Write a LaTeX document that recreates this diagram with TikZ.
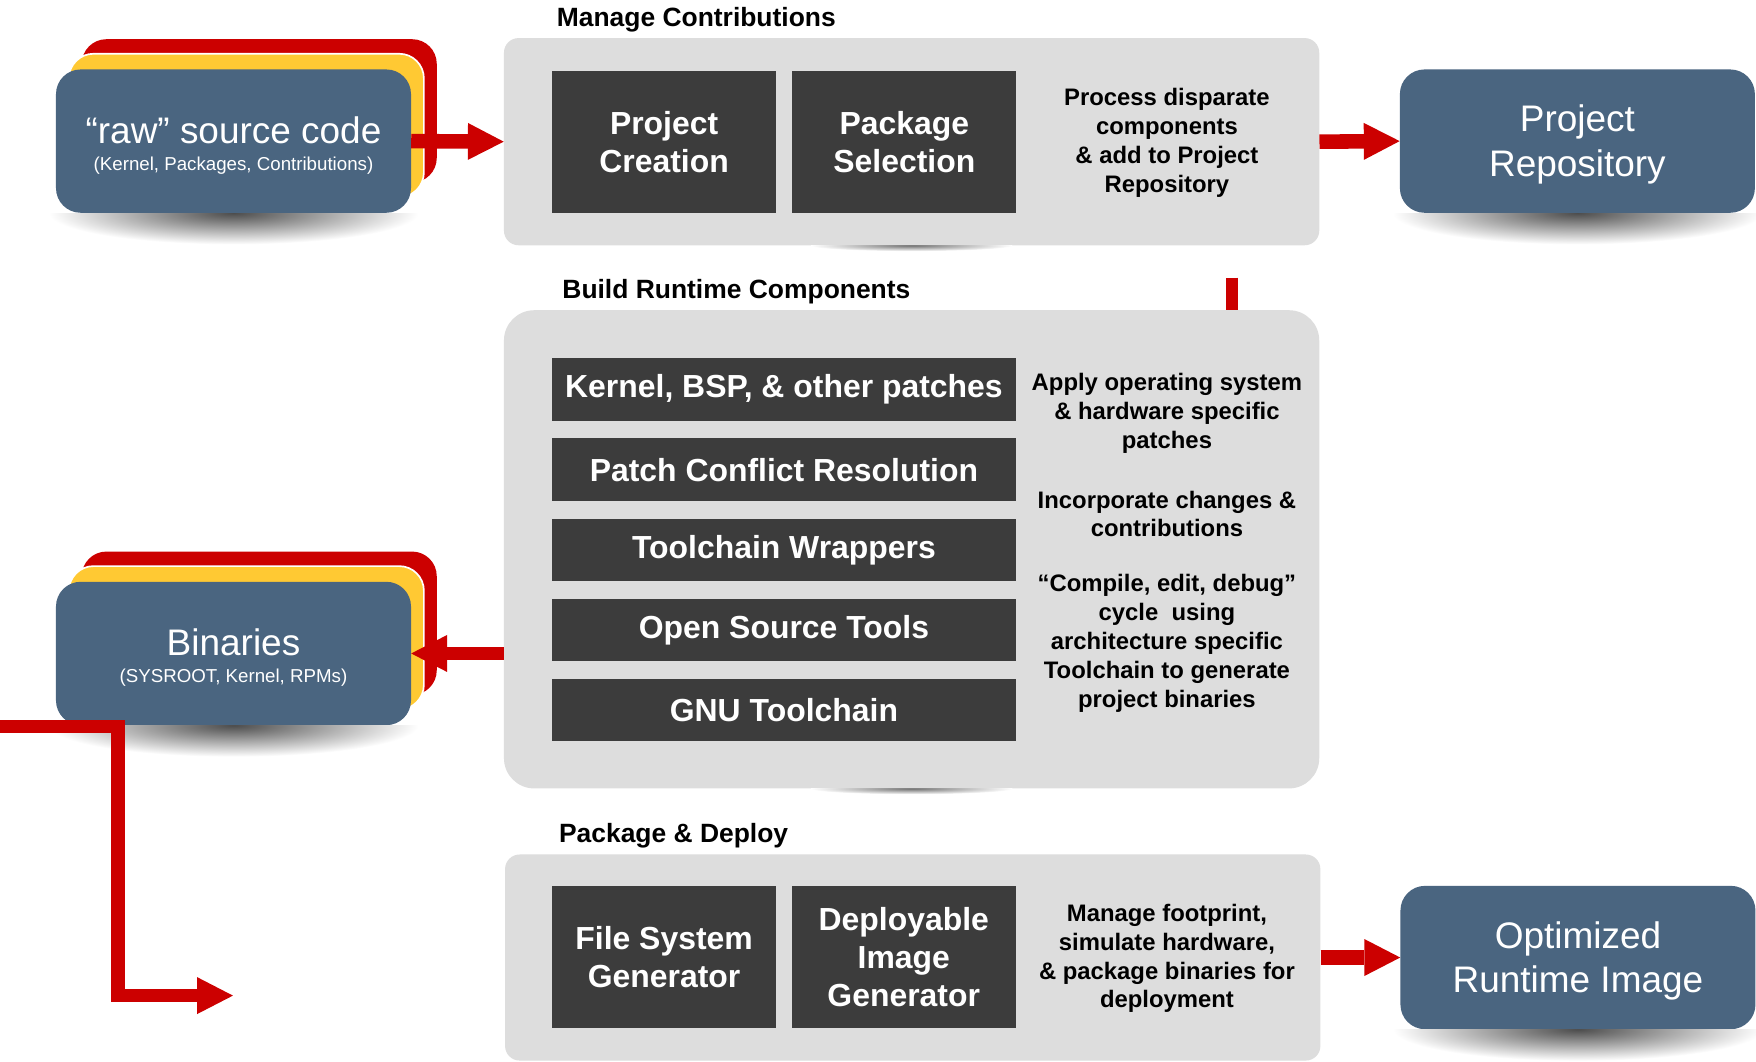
\documentclass[tikz,border=0pt]{standalone}
\usepackage{fontspec}
\setmainfont{Liberation Sans}
\usetikzlibrary{arrows.meta,calc}
\definecolor{boxblue}{HTML}{4A6580}
\definecolor{boxyellow}{HTML}{FFC933}
\definecolor{boxred}{HTML}{CC0000}
\definecolor{darkbox}{HTML}{3C3C3C}
\definecolor{panelgray}{HTML}{DDDDDD}
\newcommand{\shadowunder}[4]{%
  \begin{scope}
    \clip ($(#1.south west)+(-25,0)$) rectangle ($(#1.south east)+(25,#3)$);
    \shade[inner color=black!#4, outer color=white] (#1.south) ellipse [x radius=#2pt, y radius=#3pt];
  \end{scope}}
\begin{document}
\begin{tikzpicture}[x=1pt,y=-1pt,
  panel/.style={fill=panelgray, rounded corners=13pt, inner sep=0pt, minimum width=728pt},
  darkcell/.style={fill=darkbox, text=white, font=\bfseries\fontsize{28.5}{34}\selectfont, align=center, inner sep=0pt, minimum width=200pt, minimum height=127pt},
  barcell/.style={fill=darkbox, text=white, font=\bfseries\fontsize{28.5}{34}\selectfont, inner sep=0pt, minimum width=414pt, minimum height=56pt},
  desc/.style={font=\bfseries\fontsize{21.3}{25.7}\selectfont, align=center, text=black},
  ptitle/.style={font=\bfseries\fontsize{23.6}{28}\selectfont, anchor=base west, inner sep=0pt},
  bluebox/.style={fill=boxblue, rounded corners=22pt, minimum width=317pt, minimum height=128pt, inner sep=0pt},
  yellowbox/.style={fill=boxyellow, draw=white, line width=1.5pt, rounded corners=22pt, minimum width=317pt, minimum height=128pt, inner sep=0pt},
  redbox/.style={fill=boxred, rounded corners=22pt, minimum width=317pt, minimum height=128pt, inner sep=0pt},
  bigw/.style={text=white, font=\fontsize{33}{40}\selectfont, align=center, inner sep=0pt},
  smallw/.style={text=white, font=\fontsize{16.7}{20}\selectfont, inner sep=0pt},
  flow/.style={draw=boxred, line width=13pt, -{Triangle[length=32pt,width=33pt,line width=0pt]}},
]
\fill[white] (0,0) rectangle (1568,948.2);
\useasboundingbox (0,0) rectangle (1568,948.2);

% stub connector (behind the build panel)
\coordinate (stubTop) at (1100,248);

% panels
\node[panel, minimum height=185pt] (manage) at (814,126.5) {};
\node[panel, rounded corners=27pt, minimum height=427pt] (build) at (814,490.5) {};
\node[panel, minimum height=184pt] (package) at (815,855) {};
\draw[boxred, line width=10.7pt] (stubTop) -- (stubTop |- build.north);
\shadowunder{manage}{90}{5}{55}
\shadowunder{build}{90}{5}{55}

% titles
\node[ptitle] (tManage) at (497,23.5) {Manage Contributions};
\node[ptitle] (tBuild) at (502,266.5) {Build Runtime Components};
\node[ptitle] (tPackage) at (499,752.5) {Package \& Deploy};

% manage contributions
\node[darkcell] (pcreate) at (593,126.5) {Project\\Creation};
\node[darkcell] (psel) at (807.5,126.5) {Package\\Selection};
\node[desc] (mdesc) at (1042,127.5) {Process disparate\\components\\\& add to Project\\Repository};

% build runtime components
\node[barcell] (kernel) at (700,348) {Kernel, BSP, \& other patches};
\node[barcell] (conflict) at (700,419.5) {Patch Conflict Resolution};
\node[barcell] (wrap) at (700,491) {Toolchain Wrappers};
\node[barcell] (ostools) at (700,562.5) {Open Source Tools};
\node[barcell] (gnu) at (700,634) {GNU Toolchain};
\node[desc] (bdescA) at (1042,369) {Apply operating system\\\& hardware specific\\patches};
\node[desc] (bdescB) at (1042,459) {Incorporate changes \&\\contributions};
\node[desc] (bdescC) at (1042,574.5) {“Compile, edit, debug”\\cycle~ using\\architecture specific\\Toolchain to generate\\project binaries};

% package & deploy
\node[darkcell] (fsgen) at (593,854.5) {File System\\Generator};
\node[darkcell] (deploy) at (807,854.5) {Deployable\\Image\\Generator};
\node[desc] (pdesc) at (1042,856) {Manage footprint,\\simulate hardware,\\\& package binaries for\\deployment};

% raw source code stack
\node[redbox] (rawRed) at (231.5,99) {};
\node[yellowbox] (rawYel) at (220,112) {};
\node[bluebox] (raw) at (208.5,126) {};
\shadowunder{raw}{165}{28}{70}
\node[bigw, anchor=base] (rawTitle) at (208.5,128.5) {“raw” source code};
\node[smallw, anchor=base] (rawSub) at (208.5,152) {(Kernel, Packages, Contributions)};

% binaries stack
\node[redbox] (binRed) at (231.5,556.5) {};
\node[yellowbox] (binYel) at (220,569.5) {};
\node[bluebox] (bin) at (208.5,583.5) {};
\shadowunder{bin}{165}{28}{70}
\node[bigw, anchor=base] (binTitle) at (208.5,585.5) {Binaries};
\node[smallw, anchor=base] (binSub) at (208.5,609) {(SYSROOT, Kernel, RPMs)};

% project repository
\node[bluebox] (repo) at (1408.5,126) {};
\shadowunder{repo}{165}{28}{70}
\node[bigw] (repoText) at (1408.5,129) {Project\\Repository};

% optimized runtime image
\node[bluebox] (opt) at (1409,855) {};
\shadowunder{opt}{165}{28}{70}
\node[bigw] (optText) at (1409,858) {Optimized\\Runtime Image};

% connectors
\draw[flow] (raw.east) -- (manage.west);
\draw[flow] (manage.east) -- (repo.west);
\draw[flow, line width=12pt] (build.west |- bin.east) -- (bin.east);
\draw[flow] (package.east) -- (opt.west);
\coordinate (lStart) at (0,648.5);
\coordinate (lEnd) at (208,889);
\draw[flow, line width=12pt] (lStart) -| (105.5,889) -- (lEnd);
\end{tikzpicture}
\end{document}
